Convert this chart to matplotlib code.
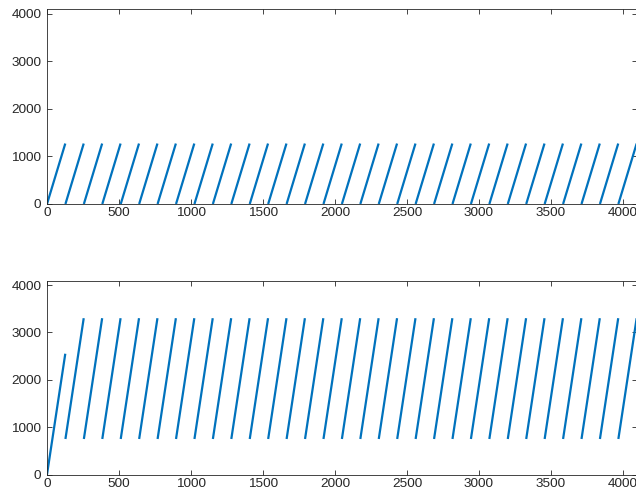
import numpy as np
import matplotlib
matplotlib.use("Agg")
import matplotlib.pyplot as plt

plt.rcParams['font.family'] = ['Liberation Sans', 'DejaVu Sans']

# start / end sample of every tooth
tooth_start = [0, 128, 256, 384, 512, 640, 768, 896, 1024, 1152, 1280, 1408,
               1536, 1664, 1792, 1920, 2048, 2176, 2304, 2432, 2560, 2688,
               2816, 2944, 3072, 3200, 3328, 3456, 3584, 3712, 3840, 3968]
tooth_end = [127, 255, 383, 511, 639, 767, 895, 1023, 1151, 1279, 1407, 1535,
             1663, 1791, 1919, 2047, 2175, 2303, 2431, 2559, 2687, 2815,
             2943, 3071, 3199, 3327, 3455, 3583, 3711, 3839, 3967, 4095]

# top panel: every tooth runs 0 -> 1270
top_low = [0] * 32
top_high = [1270] * 32

# bottom panel: first ramp 0 -> 2550, then 750 -> 3300
bot_low = [0] + [750] * 31
bot_high = [2550] + [3300] * 31

xticks = [0, 500, 1000, 1500, 2000, 2500, 3000, 3500, 4000]
yticks = [0, 1000, 2000, 3000, 4000]

blue = '#0072BD'
axcol = '#262626'

fig = plt.figure(figsize=(6.36, 4.97), dpi=100)
W, H = 636.0, 497.0


def segments(x0, x1, y0, y1):
    xs, ys = [], []
    for a, b, c, d in zip(x0, x1, y0, y1):
        xs += [a, b, np.nan]
        ys += [c, d, np.nan]
    return xs, ys


def make_axes(top_px, bot_px, low, high):
    left = 47 / W
    width = (636.8 - 47) / W
    ax = fig.add_axes([left, 1 - bot_px / H, width, (bot_px - top_px) / H])
    xs, ys = segments(tooth_start, tooth_end, low, high)
    ax.plot(xs, ys, color=blue, lw=1.6, solid_capstyle='butt')
    ax.set_xlim(0, 4096)
    ax.set_ylim(0, 4096)
    ax.set_xticks(xticks)
    ax.set_yticks(yticks)
    ax.tick_params(direction='in', length=3.5, width=0.6, color=axcol,
                   labelcolor=axcol, labelsize=9.7, top=True, right=True)
    ax.tick_params(axis='x', pad=2.5)
    ax.tick_params(axis='y', pad=4)
    for s in ax.spines.values():
        s.set_color(axcol)
        s.set_linewidth(0.6)
    return ax


make_axes(9, 204, top_low, top_high)
make_axes(280.5, 474.5, bot_low, bot_high)

fig.savefig('out.png', dpi=100)
